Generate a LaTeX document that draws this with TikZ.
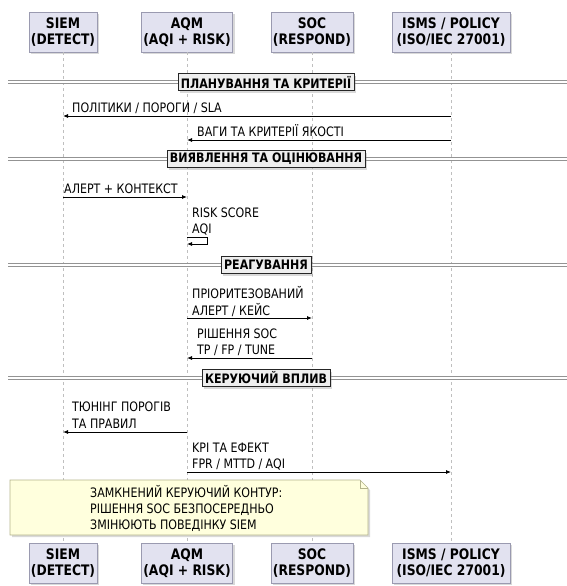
\documentclass[tikz,border=0pt]{standalone}
\usepackage{fontspec}
\setmainfont{DejaVu Sans}[FakeStretch=0.85]
\usetikzlibrary{arrows.meta, shadows}

\definecolor{partfill}{HTML}{E2E2F0}
\definecolor{partline}{HTML}{9A9AB0}
\definecolor{notefill}{HTML}{FFFFDD}
\definecolor{noteline}{HTML}{B4B48C}
\definecolor{divfill}{HTML}{EEEEEE}

\begin{document}
\begin{tikzpicture}[
  x=1pt, y=-1pt,
  part/.style={rectangle, draw=partline, fill=partfill, minimum height=40pt,
               inner sep=2pt, align=center,
               font=\fontsize{14.5}{16}\selectfont\bfseries,
               drop shadow={shadow xshift=2pt, shadow yshift=-2pt, opacity=0.3}},
  life/.style={draw=gray!50, dash pattern=on 3pt off 3pt, line width=0.6pt},
  msg/.style={font=\fontsize{13}{16}\selectfont, inner sep=0pt, anchor=base west},
  call/.style={-{Latex[length=5pt, width=4pt]}, line width=0.8pt},
  divline/.style={draw=gray!85, double=white, double distance=1.5pt, line width=1pt},
  divbox/.style={rectangle, draw=black!85, fill=divfill, minimum height=17pt,
                 inner xsep=3pt, inner ysep=1pt,
                 font=\fontsize{13}{15}\selectfont\bfseries,
                 drop shadow={shadow xshift=2pt, shadow yshift=-2pt, opacity=0.3}},
  notebox/.style={draw=noteline, fill=notefill, line width=0.6pt,
                  drop shadow={shadow xshift=2pt, shadow yshift=-2pt, opacity=0.3}}
]
\useasboundingbox (0,0) rectangle (567,586);

% Participants, top and bottom
\node[part, minimum width=68pt]  (siemT) at (63,32)  {SIEM\\(DETECT)};
\node[part, minimum width=90pt]  (aqmT)  at (187,32) {AQM\\(AQI + RISK)};
\node[part, minimum width=74pt]  (socT)  at (312,32) {SOC\\(RESPOND)};
\node[part, minimum width=118pt] (ismsT) at (451,32) {ISMS / POLICY\\(ISO/IEC 27001)};

\node[part, minimum width=68pt]  (siemB) at (63,563)  {SIEM\\(DETECT)};
\node[part, minimum width=90pt]  (aqmB)  at (187,563) {AQM\\(AQI + RISK)};
\node[part, minimum width=74pt]  (socB)  at (312,563) {SOC\\(RESPOND)};
\node[part, minimum width=118pt] (ismsB) at (451,563) {ISMS / POLICY\\(ISO/IEC 27001)};

% Lifelines
\foreach \p in {siem, aqm, soc, isms}
  \draw[life] (\p T.south) -- (\p B.north);

% Section dividers
\foreach \y/\t [count=\i] in {82/ПЛАНУВАННЯ ТА КРИТЕРІЇ, 159/ВИЯВЛЕННЯ ТА ОЦІНЮВАННЯ,
                              265/РЕАГУВАННЯ, 378/КЕРУЮЧИЙ ВПЛИВ} {
  \draw[divline] (8,\y) -- (567,\y);
  \node[divbox] (div\i) at (266,\y) {\t};
}

% Planning
\node[msg] (m1) at (72,112) {ПОЛІТИКИ / ПОРОГИ / SLA};
\draw[call] (ismsT |- 0,116) -- (siemT |- 0,116);
\node[msg] (m2) at (197,136) {ВАГИ ТА КРИТЕРІЇ ЯКОСТІ};
\draw[call] (ismsT |- 0,140) -- (aqmT |- 0,140);

% Detection
\node[msg] (m3) at (64,193) {АЛЕРТ + КОНТЕКСТ};
\draw[call] (siemT |- 0,197) -- (aqmT |- 0,197);
\node[msg] (m4a) at (192,217) {RISK SCORE};
\node[msg] (m4b) at (192,233) {AQI};
\draw[call] (aqmT |- 0,237) -| (207,244) -- (aqmT |- 0,244);

% Response
\node[msg] (m5a) at (192,298) {ПРІОРИТЕЗОВАНИЙ};
\node[msg] (m5b) at (192,315) {АЛЕРТ / КЕЙС};
\draw[call] (aqmT |- 0,318) -- (socT |- 0,318);
\node[msg] (m6a) at (197,338) {РІШЕННЯ SOC};
\node[msg] (m6b) at (197,354) {TP / FP / TUNE};
\draw[call] (socT |- 0,358) -- (aqmT |- 0,358);

% Control
\node[msg] (m7a) at (72,411) {ТЮНІНГ ПОРОГІВ};
\node[msg] (m7b) at (72,428) {ТА ПРАВИЛ};
\draw[call] (aqmT |- 0,432) -- (siemT |- 0,432);
\node[msg] (m8a) at (192,452) {KPI ТА ЕФЕКТ};
\node[msg] (m8b) at (192,468) {FPR / MTTD / AQI};
\draw[call] (aqmT |- 0,472) -- (ismsT |- 0,472);

% Note
\draw[notebox] (10,480) -- (360,480) -- (368,488) -- (368,535) -- (10,535) -- cycle;
\draw[draw=noteline, line width=0.6pt] (360,480) -- (360,488) -- (368,488);
\node[msg] (n1) at (90,497) {ЗАМКНЕНИЙ КЕРУЮЧИЙ КОНТУР:};
\node[msg] (n2) at (90,513) {РІШЕННЯ SOC БЕЗПОСЕРЕДНЬО};
\node[msg] (n3) at (90,529) {ЗМІНЮЮТЬ ПОВЕДІНКУ SIEM};

\end{tikzpicture}
\end{document}
